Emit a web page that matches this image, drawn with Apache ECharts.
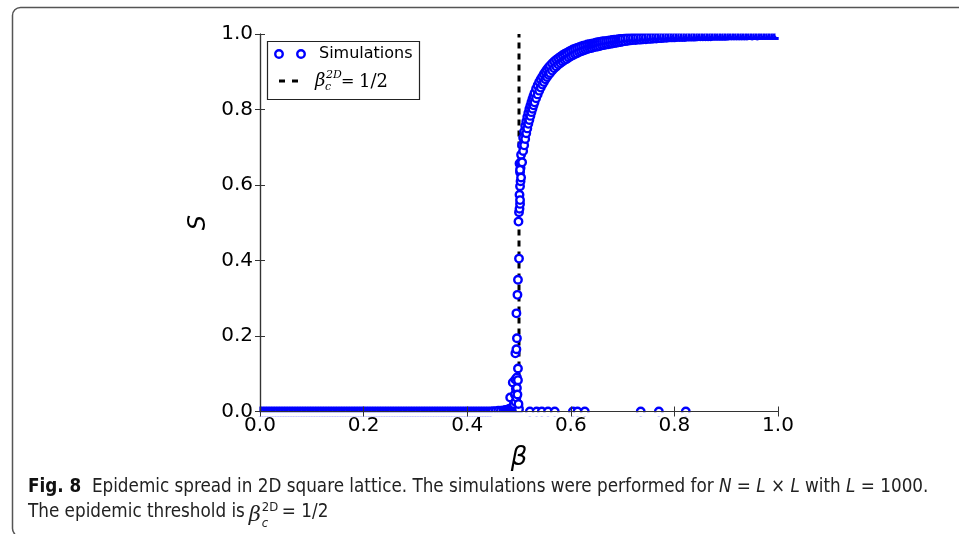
<!DOCTYPE html>
<html>
<head>
<meta charset="utf-8">
<script src="https://cdn.jsdelivr.net/npm/echarts@6/dist/echarts.min.js"></script>
<style>
  html, body { margin: 0; padding: 0; background: #fff; }
  #chart { width: 959px; height: 534px; }
</style>
</head>
<body>
<div id="chart"></div>
<script>
// S = 0 below the threshold (dense row along the bottom)
const zeroBeta = [
  0, 0.005, 0.01, 0.015, 0.02, 0.025, 0.03, 0.035, 0.04, 0.045,
  0.05, 0.055, 0.06, 0.065, 0.07, 0.075, 0.08, 0.085, 0.09, 0.095,
  0.1, 0.105, 0.11, 0.115, 0.12, 0.125, 0.13, 0.135, 0.14, 0.145,
  0.15, 0.155, 0.16, 0.165, 0.17, 0.175, 0.18, 0.185, 0.19, 0.195,
  0.2, 0.205, 0.21, 0.215, 0.22, 0.225, 0.23, 0.235, 0.24, 0.245,
  0.25, 0.255, 0.26, 0.265, 0.27, 0.275, 0.28, 0.285, 0.29, 0.295,
  0.3, 0.305, 0.31, 0.315, 0.32, 0.325, 0.33, 0.335, 0.34, 0.345,
  0.35, 0.355, 0.36, 0.365, 0.37, 0.375, 0.38, 0.385, 0.39, 0.395,
  0.4, 0.405, 0.41, 0.415, 0.42, 0.425, 0.43, 0.435, 0.44, 0.445
];

// small outbreaks just below the threshold
const tailBeta = [0.450, 0.455, 0.460, 0.465, 0.470, 0.474, 0.477, 0.480, 0.482, 0.484, 0.486, 0.488,
  0.489, 0.490, 0.491, 0.492, 0.493, 0.494, 0.495, 0.496, 0.497, 0.498, 0.499, 0.500];
const tailS = [0.001, 0.001, 0.002, 0.002, 0.003, 0.004, 0.004, 0.006, 0.007, 0.008, 0.010, 0.012,
  0.008, 0.014, 0.010, 0.016, 0.012, 0.018, 0.008, 0.014, 0.010, 0.020, 0.012, 0.006];

// the jump at the threshold
const jumpBeta = [
  0.483, 0.488, 0.490, 0.492, 0.493, 0.493, 0.493, 0.494, 0.495, 0.495,
  0.495, 0.496, 0.496, 0.496, 0.497, 0.497, 0.498, 0.498, 0.498, 0.499,
  0.500, 0.499, 0.500, 0.501, 0.502, 0.501, 0.502, 0.503, 0.502, 0.501,
  0.504, 0.503
];
const jumpS = [
  0.037, 0.077, 0.020, 0.045, 0.154, 0.085, 0.026, 0.060, 0.260, 0.165,
  0.037, 0.194, 0.062, 0.090, 0.309, 0.045, 0.114, 0.083, 0.349, 0.020,
  0.405, 0.503, 0.528, 0.537, 0.550, 0.574, 0.597, 0.610, 0.634, 0.657,
  0.661, 0.645
];

// saturating branch: lower and upper edge of the band of runs
const bandBeta = [
  0.502, 0.504, 0.506, 0.508, 0.510, 0.512, 0.514, 0.516, 0.518, 0.520,
  0.522, 0.524, 0.526, 0.528, 0.530, 0.533, 0.536, 0.539, 0.542, 0.545,
  0.548, 0.551, 0.554, 0.557, 0.560, 0.564, 0.568, 0.572, 0.576, 0.580,
  0.584, 0.588, 0.592, 0.596, 0.600, 0.604, 0.608, 0.612, 0.616, 0.620,
  0.624, 0.628, 0.632, 0.636, 0.640, 0.644, 0.648, 0.652, 0.656, 0.660,
  0.664, 0.668, 0.672, 0.676, 0.680, 0.684, 0.688, 0.692, 0.696, 0.700,
  0.705, 0.710, 0.715, 0.720, 0.725, 0.730, 0.735, 0.740, 0.745, 0.750,
  0.755, 0.760, 0.765, 0.770, 0.775, 0.780, 0.785, 0.790, 0.795, 0.800,
  0.805, 0.810, 0.815, 0.820, 0.825, 0.830, 0.835, 0.840, 0.845, 0.850,
  0.855, 0.860, 0.865, 0.870, 0.875, 0.880, 0.885, 0.890, 0.895, 0.900,
  0.905, 0.910, 0.915, 0.920, 0.925, 0.930, 0.935, 0.940, 0.945, 0.950,
  0.955, 0.960, 0.965, 0.970, 0.975, 0.980, 0.985, 0.990, 0.995, 1.000
];
const bandLow = [
  0.560, 0.620, 0.660, 0.690, 0.705, 0.722, 0.737, 0.750, 0.762, 0.772,
  0.783, 0.793, 0.802, 0.811, 0.819, 0.830, 0.840, 0.850, 0.858, 0.866,
  0.873, 0.880, 0.886, 0.892, 0.897, 0.903, 0.909, 0.914, 0.919, 0.923,
  0.927, 0.931, 0.934, 0.938, 0.941, 0.944, 0.947, 0.949, 0.952, 0.954,
  0.956, 0.958, 0.960, 0.962, 0.963, 0.965, 0.966, 0.967, 0.968, 0.970,
  0.971, 0.972, 0.973, 0.974, 0.975, 0.976, 0.977, 0.978, 0.979, 0.980,
  0.981, 0.982, 0.983, 0.984, 0.984, 0.985, 0.985, 0.986, 0.986, 0.987,
  0.987, 0.988, 0.988, 0.989, 0.989, 0.990, 0.990, 0.991, 0.991, 0.991,
  0.992, 0.992, 0.992, 0.992, 0.993, 0.993, 0.993, 0.993, 0.994, 0.994,
  0.994, 0.994, 0.994, 0.994, 0.995, 0.995, 0.995, 0.995, 0.995, 0.995,
  0.996, 0.996, 0.996, 0.996, 0.996, 0.996, 0.996, 0.996, 0.997, 0.996,
  0.997, 0.996, 0.997, 0.997, 0.997, 0.997, 0.997, 0.997, 0.997, 0.997
];
const bandHigh = [
  0.640, 0.680, 0.705, 0.725, 0.742, 0.756, 0.768, 0.780, 0.791, 0.801,
  0.810, 0.819, 0.828, 0.836, 0.844, 0.855, 0.864, 0.873, 0.880, 0.887,
  0.894, 0.900, 0.906, 0.911, 0.916, 0.922, 0.927, 0.932, 0.936, 0.940,
  0.944, 0.947, 0.950, 0.953, 0.956, 0.959, 0.961, 0.963, 0.965, 0.967,
  0.969, 0.970, 0.972, 0.973, 0.974, 0.975, 0.977, 0.978, 0.979, 0.980,
  0.981, 0.981, 0.982, 0.983, 0.984, 0.985, 0.985, 0.986, 0.987, 0.987,
  0.988, 0.989, 0.989, 0.990, 0.990, 0.991, 0.991, 0.992, 0.992, 0.993,
  0.993, 0.994, 0.994, 0.994, 0.995, 0.995, 0.995, 0.995, 0.996, 0.996,
  0.996, 0.996, 0.997, 0.997, 0.997, 0.997, 0.997, 0.997, 0.998, 0.998,
  0.998, 0.998, 0.998, 0.998, 0.998, 0.998, 0.999, 0.999, 0.999, 0.999,
  0.999, 0.999, 0.999, 0.999, 0.999, 0.999, 0.999, 0.999, 0.999, 0.999,
  0.999, 0.999, 0.999, 0.999, 0.999, 0.999, 0.999, 0.999, 0.999, 0.999
];

// runs above the threshold that died out (S = 0)
const extinctBeta = [0.521, 0.534, 0.544, 0.556, 0.569, 0.604, 0.613, 0.627, 0.735, 0.770, 0.822];

const thresholdBeta = 0.5;
const tickLabels = ['0.0', '0.2', '0.4', '0.6', '0.8', '1.0'];

const zeroData = zeroBeta.map(b => [b, 0]);
const simData = [];
tailBeta.forEach((b, i) => simData.push([b, tailS[i]]));
jumpBeta.forEach((b, i) => simData.push([b, jumpS[i]]));
bandBeta.forEach((b, i) => {
  simData.push([b, bandLow[i]]);
  simData.push([b, bandHigh[i]]);
});
extinctBeta.forEach(b => simData.push([b, 0]));

const tickFmt = v => tickLabels[Math.round(v * 5)];
const axisLine = { show: true, lineStyle: { color: '#333', width: 1.2 } };
const axisTick = { show: true, inside: true, length: 5, lineStyle: { color: '#333', width: 1 } };
const labelFont = { color: '#000', fontSize: 20, fontFamily: 'DejaVu Sans' };
const marker = { color: '#fff', borderColor: '#0000ff', borderWidth: 2.4, opacity: 1 };

// caption line 2 : place the formula right after the text
const capFont = "'Liberation Sans Narrow', 'DejaVu Sans Condensed', sans-serif";
const capSize = 18.7;
const measure = document.createElement('canvas').getContext('2d');
measure.font = capSize + 'px ' + capFont;
const cap2End = 28 + measure.measureText('The epidemic threshold is').width;

// white strips outside the plot box: markers are cut at the frame like the original
const cover = (x, y, w, h) => ({ type: 'rect', shape: { x: x, y: y, width: w, height: h },
  style: { fill: '#fff' }, z: 5, silent: true });

const chart = echarts.init(document.getElementById('chart'), null, { renderer: 'canvas' });
chart.setOption({
  animation: false,
  backgroundColor: '#fff',
  grid: { left: 260, top: 34, width: 518, height: 377.5 },
  xAxis: [{
    type: 'value', min: 0, max: 1, interval: 0.2, position: 'bottom', z: 6,
    axisLine: axisLine, axisTick: axisTick, splitLine: { show: false },
    axisLabel: Object.assign({ margin: 4, formatter: tickFmt }, labelFont),
    name: 'β', nameLocation: 'middle', nameGap: 34,
    nameTextStyle: { fontSize: 26, fontStyle: 'italic', fontFamily: 'DejaVu Sans', color: '#000' }
  }, {
    type: 'value', min: 0, max: 1, interval: 0.2, position: 'top', z: 6,
    axisLine: axisLine, axisTick: axisTick, splitLine: { show: false },
    axisLabel: { show: false }
  }],
  yAxis: [{
    type: 'value', min: 0, max: 1, interval: 0.2, position: 'left', z: 6,
    axisLine: axisLine, axisTick: axisTick, splitLine: { show: false },
    axisLabel: Object.assign({ margin: 7, formatter: tickFmt }, labelFont),
    name: 'S', nameLocation: 'middle', nameGap: 47, nameRotate: 90,
    nameTextStyle: { fontSize: 24, fontStyle: 'italic', fontFamily: 'DejaVu Sans', color: '#000' }
  }, {
    type: 'value', min: 0, max: 1, interval: 0.2, position: 'right', z: 6,
    axisLine: axisLine, axisTick: axisTick, splitLine: { show: false },
    axisLabel: { show: false }
  }],
  series: [{
    name: 'threshold',
    type: 'line',
    data: [[thresholdBeta, 0], [thresholdBeta, 1]],
    symbol: 'none',
    lineStyle: { color: '#000', width: 3, type: [6, 5] },
    z: 1,
    silent: true
  }, {
    // the dense row of S = 0 runs merges into a solid band
    name: 'Simulations',
    type: 'scatter',
    data: zeroData,
    symbol: 'circle',
    symbolSize: 7.5,
    itemStyle: Object.assign({}, marker, { color: 'rgba(255,255,255,0)' }),
    z: 2,
    silent: true
  }, {
    name: 'Simulations',
    type: 'scatter',
    data: simData,
    symbol: 'circle',
    symbolSize: 7.5,
    itemStyle: marker,
    z: 2,
    silent: true
  }],
  graphic: [
    // figure frame
    { type: 'rect', shape: { x: 12.5, y: 7.5, width: 1000, height: 529, r: 8 },
      style: { fill: 'none', stroke: '#555', lineWidth: 1.5 }, z: 0, silent: true },
    cover(254, 24, 540, 9.4),
    cover(254, 412.3, 540, 4.2),
    cover(254, 24, 5.4, 392),
    cover(778.7, 24, 14, 392),
    // legend
    { type: 'rect', shape: { x: 267.5, y: 41.5, width: 152, height: 58 },
      style: { fill: '#fff', stroke: '#222', lineWidth: 1.2 }, z: 10 },
    { type: 'circle', shape: { cx: 279, cy: 54, r: 3.75 },
      style: { fill: '#fff', stroke: '#0000ff', lineWidth: 2.4 }, z: 11 },
    { type: 'circle', shape: { cx: 301, cy: 54, r: 3.75 },
      style: { fill: '#fff', stroke: '#0000ff', lineWidth: 2.4 }, z: 11 },
    { type: 'text', x: 319, y: 54, z: 11,
      style: { text: 'Simulations', fontSize: 16, fontFamily: 'DejaVu Sans', fill: '#000', verticalAlign: 'middle' } },
    { type: 'line', shape: { x1: 279, y1: 81, x2: 298, y2: 81 },
      style: { stroke: '#000', lineWidth: 3, lineDash: [6, 7] }, z: 11 },
    { type: 'text', x: 315, y: 81, z: 11,
      style: { text: 'β', fontSize: 18, fontStyle: 'italic', fontFamily: 'DejaVu Serif', fill: '#000', verticalAlign: 'middle' } },
    { type: 'text', x: 326, y: 75, z: 11,
      style: { text: '2D', fontSize: 11, fontStyle: 'italic', fontFamily: 'DejaVu Serif', fill: '#000', verticalAlign: 'middle' } },
    { type: 'text', x: 325, y: 87, z: 11,
      style: { text: 'c', fontSize: 11, fontStyle: 'italic', fontFamily: 'DejaVu Serif', fill: '#000', verticalAlign: 'middle' } },
    { type: 'text', x: 341, y: 82, z: 11,
      style: { text: '=', fontSize: 16, fontFamily: 'DejaVu Serif', fill: '#000', verticalAlign: 'middle' } },
    { type: 'text', x: 359, y: 82, z: 11,
      style: { text: '1/2', fontSize: 18, fontFamily: 'DejaVu Serif', fill: '#000', verticalAlign: 'middle' } },
    // caption
    { type: 'text', x: 28, y: 497, z: 11,
      style: {
        text: '{b|Fig. 8}  Epidemic spread in 2D square lattice. The simulations were performed for {i|N} = {i|L} × {i|L} with {i|L} = 1000.',
        fontSize: capSize, fontFamily: capFont, fill: '#222',
        verticalAlign: 'bottom',
        rich: {
          b: { fontWeight: 'bold', fontSize: capSize, fontFamily: capFont, fill: '#111' },
          i: { fontStyle: 'italic', fontSize: capSize, fontFamily: capFont, fill: '#222' }
        }
      } },
    { type: 'text', x: 28, y: 522, z: 11,
      style: { text: 'The epidemic threshold is', fontSize: capSize, fontFamily: capFont, fill: '#222', verticalAlign: 'bottom' } },
    { type: 'text', x: cap2End + 4, y: 516, z: 11,
      style: { text: 'β', fontSize: 21, fontStyle: 'italic', fontFamily: 'DejaVu Serif', fill: '#222', verticalAlign: 'middle' } },
    { type: 'text', x: cap2End + 17, y: 508, z: 11,
      style: { text: '2D', fontSize: 13, fontFamily: capFont, fill: '#222', verticalAlign: 'middle' } },
    { type: 'text', x: cap2End + 17, y: 524, z: 11,
      style: { text: 'c', fontSize: 13, fontStyle: 'italic', fontFamily: capFont, fill: '#222', verticalAlign: 'middle' } },
    { type: 'text', x: cap2End + 37, y: 522, z: 11,
      style: { text: '= 1/2', fontSize: capSize, fontFamily: capFont, fill: '#222', verticalAlign: 'bottom' } }
  ]
});
</script>
</body>
</html>
